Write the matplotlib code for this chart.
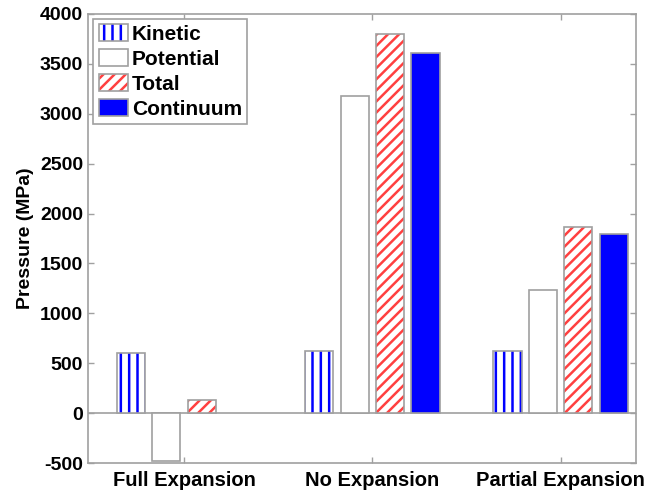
import numpy as np
import matplotlib
matplotlib.use("Agg")
import matplotlib.pyplot as plt
from matplotlib.patches import Patch
from matplotlib.legend_handler import HandlerTuple

categories = ["Full Expansion", "No Expansion", "Partial Expansion"]
series = ["Kinetic", "Potential", "Total", "Continuum"]
kinetic = [600, 620, 620]
potential = [-480, 3175, 1235]
total = [130, 3800, 1865]
continuum = [np.nan, 3610, 1800]
yticks = [-500, 0, 500, 1000, 1500, 2000, 2500, 3000, 3500, 4000]

plt.rcParams['font.family'] = ['Liberation Sans', 'DejaVu Sans']
plt.rcParams['font.weight'] = 'bold'
plt.rcParams['hatch.linewidth'] = 1.8
plt.rcParams['axes.unicode_minus'] = False

fig = plt.figure(figsize=(6.51, 4.96), dpi=100)
ax = fig.add_axes([88/651, 1-463/496, (636-88)/651, (463-14)/496])

x = np.arange(1, len(categories) + 1)
w = 0.15
step = 0.188
edge = '#a0a0a0'
blue = '#0000ff'
red = '#ff4040'

styles = [
    dict(facecolor='white', hatch='||', hatchc=blue),
    dict(facecolor='white', hatch=None, hatchc=None),
    dict(facecolor='white', hatch='///', hatchc=red),
    dict(facecolor=blue, hatch=None, hatchc=None),
]
data = [kinetic, potential, total, continuum]
handles = []
for i, (vals, st) in enumerate(zip(data, styles)):
    pos = x + (i - 1.5) * step
    if st['hatch']:
        ax.bar(pos, vals, w, facecolor=st['facecolor'], edgecolor=st['hatchc'],
               hatch=st['hatch'], linewidth=0, zorder=2)
    else:
        ax.bar(pos, vals, w, facecolor=st['facecolor'], edgecolor='none',
               linewidth=0, zorder=2)
    ax.bar(pos, vals, w, facecolor='none', edgecolor=edge, linewidth=1.2, zorder=3)
    if st['hatch']:
        h = (Patch(facecolor='white', edgecolor=st['hatchc'], hatch=st['hatch'], linewidth=0),
             Patch(facecolor='none', edgecolor=edge, linewidth=1.2))
    else:
        h = (Patch(facecolor=st['facecolor'], edgecolor='none', linewidth=0),
             Patch(facecolor='none', edgecolor=edge, linewidth=1.2))
    handles.append(h)

ax.axhline(0, color=edge, linewidth=1.2, zorder=1)
ax.set_xlim(0.49, 3.40)
ax.set_ylim(-500, 4000)
ax.set_yticks(yticks)
ax.set_xticks(x)
ax.set_xticklabels(categories, fontsize=14.5, fontweight='bold')
ax.tick_params(axis='y', labelsize=14)
ax.tick_params(axis='x', pad=6)
ax.tick_params(direction='in', top=True, right=True, color=edge, length=4, width=1)
for s in ax.spines.values():
    s.set_color(edge)
    s.set_linewidth(1.2)
ax.set_ylabel('Pressure (MPa)', fontsize=14, fontweight='bold', labelpad=4)

leg = ax.legend(handles, series, handler_map={tuple: HandlerTuple(ndivide=1, pad=0)},
                loc='upper left', bbox_to_anchor=(0.006, 0.994), fontsize=15,
                frameon=True, fancybox=False, edgecolor=edge, framealpha=1,
                handlelength=1.4, handleheight=0.9, handletextpad=0.2,
                borderaxespad=0.1, labelspacing=0.25, borderpad=0.25)
leg.get_frame().set_linewidth(1.2)

fig.savefig('out.png', dpi=100)
